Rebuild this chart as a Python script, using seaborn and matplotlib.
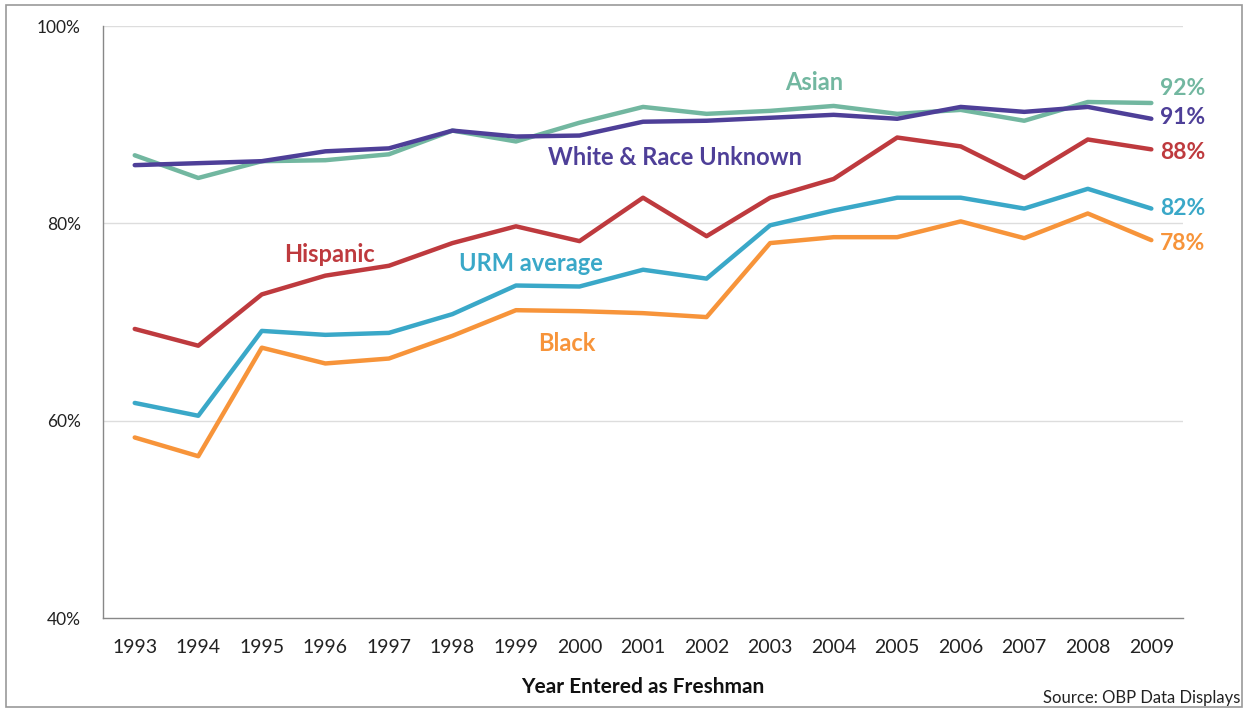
import numpy as np
import pandas as pd
import matplotlib
matplotlib.use("Agg")
import matplotlib.pyplot as plt
import seaborn as sns
from matplotlib.patches import Rectangle

years = [str(y) for y in range(1993, 2010)]
asian = [86.9, 84.6, 86.3, 86.4, 87.0, 89.4, 88.3, 90.2, 91.8, 91.1, 91.4, 91.9, 91.1, 91.5, 90.4, 92.3, 92.2]
white = [85.9, 86.1, 86.3, 87.3, 87.6, 89.4, 88.8, 88.9, 90.3, 90.4, 90.7, 91.0, 90.6, 91.8, 91.3, 91.8, 90.6]
hispanic = [69.3, 67.6, 72.8, 74.7, 75.7, 78.0, 79.7, 78.2, 82.6, 78.7, 82.6, 84.5, 88.7, 87.8, 84.6, 88.5, 87.5]
urm = [61.8, 60.5, 69.1, 68.7, 68.9, 70.8, 73.7, 73.6, 75.3, 74.4, 79.8, 81.3, 82.6, 82.6, 81.5, 83.5, 81.5]
black = [58.3, 56.4, 67.4, 65.8, 66.3, 68.6, 71.2, 71.1, 70.9, 70.5, 78.0, 78.6, 78.6, 80.2, 78.5, 81.0, 78.3]

series_names = ["Black", "URM average", "Hispanic", "Asian", "White & Race Unknown"]
series_vals = [black, urm, hispanic, asian, white]
end_labels = ["78%", "82%", "88%", "92%", "91%"]
colors = {"Black": "#f7943a", "URM average": "#3aa8c8", "Hispanic": "#be3a3e",
          "Asian": "#72b7a0", "White & Race Unknown": "#4e3f98"}

rows = []
for name, vals in zip(series_names, series_vals):
    for i, v in enumerate(vals):
        rows.append({"idx": i, "year": years[i], "value": v, "group": name})
df = pd.DataFrame(rows)

sns.set_theme(style="white")
plt.rcParams['font.family'] = ['Lato', 'DejaVu Sans']

fig = plt.figure(figsize=(12.48, 7.09), dpi=100)
ax = fig.add_axes([0.0825, 0.1283, 0.8655, 0.835])

sns.lineplot(data=df, x="idx", y="value", hue="group", hue_order=series_names,
             palette=colors, linewidth=3.2, legend=False, ax=ax)

ax.set_xlim(-0.5, 16.5)
ax.set_ylim(40, 100)
ax.set_yticks([40, 60, 80, 100])
ax.set_yticklabels(["40%", "60%", "80%", "100%"], fontsize=12.5, color="#222222")
ax.set_xticks(np.arange(17))
ax.set_xticklabels(years, fontsize=14, color="#222222")
ax.set_xticks(np.arange(-0.5, 17, 1), minor=True)
ax.tick_params(axis="x", which="major", length=0, pad=15)
ax.tick_params(axis="x", which="minor", length=6, color="#888888", width=1, direction="out")
ax.tick_params(axis="y", which="major", length=6, color="#888888", width=1, direction="out", pad=10)
for y in [60, 80, 100]:
    ax.axhline(y, color="#dddddd", lw=1, zorder=0)
for s in ["top", "right"]:
    ax.spines[s].set_visible(False)
for s in ["left", "bottom"]:
    ax.spines[s].set_color("#888888")
    ax.spines[s].set_linewidth(1)
ax.set_ylabel("")
ax.set_xlabel("Year Entered as Freshman", fontsize=15, fontweight="bold", color="#111111", labelpad=15)

# series name labels
name_pos = {"Asian": (10.7, 94.3), "White & Race Unknown": (8.5, 86.7),
            "Hispanic": (3.06, 76.8), "URM average": (6.24, 75.9), "Black": (6.8, 67.8)}
for name in series_names:
    x, y = name_pos[name]
    ax.text(x, y, name, color=colors[name], fontsize=17, fontweight="bold",
            ha="center", va="center")

end_y = {"Black": 78.0, "URM average": 81.5, "Hispanic": 87.2, "Asian": 93.7, "White & Race Unknown": 90.7}
for name, lab in zip(series_names, end_labels):
    ax.text(16.14, end_y[name], lab, color=colors[name], fontsize=16.5, fontweight="bold",
            ha="left", va="center", clip_on=False)

fig.text(0.9936, 0.015, "Source: OBP Data Displays", ha="right", va="center",
         fontsize=12, color="#222222")

fig.patches.append(Rectangle((0.005, 0.003), 0.99, 0.99, transform=fig.transFigure,
                             fill=False, edgecolor="#999999", lw=1.2))

fig.savefig("out.png", dpi=100)
